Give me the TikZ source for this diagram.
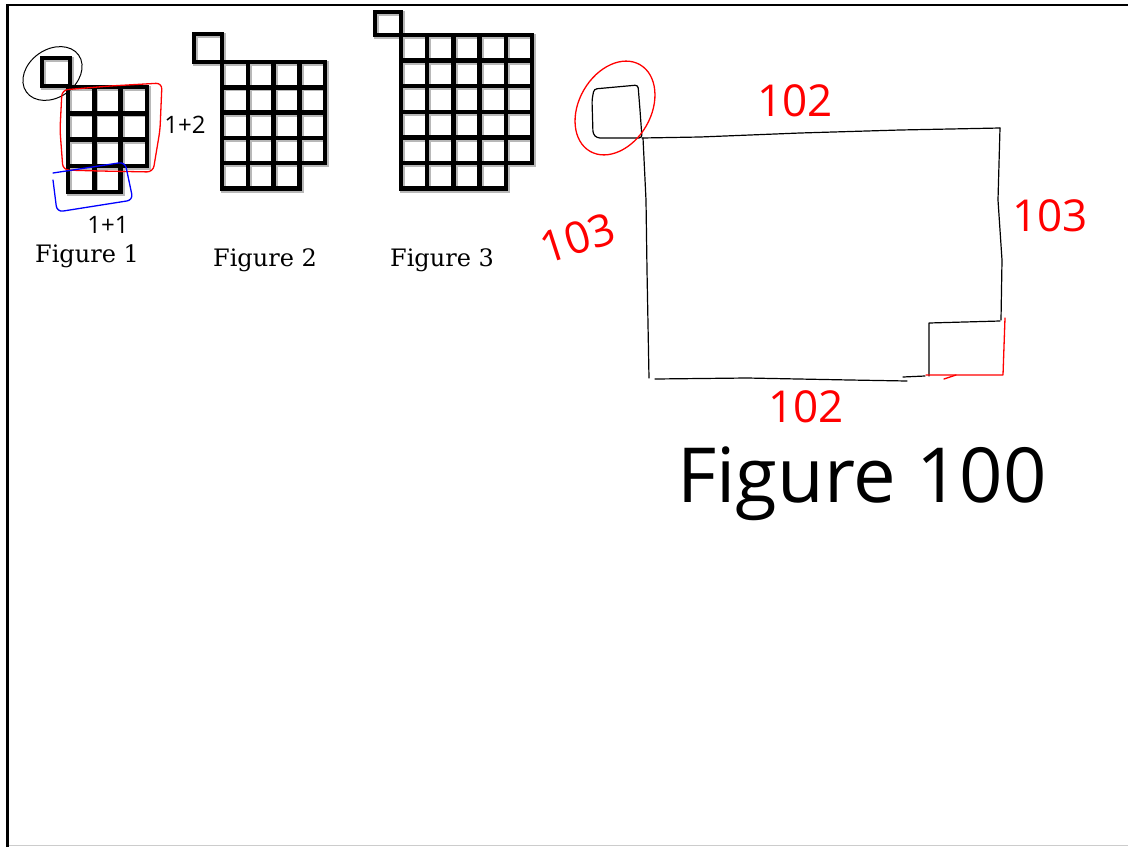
\documentclass[tikz,border=0pt]{standalone}
\usepackage{fontspec}
\newfontfamily\typew{DejaVu Serif}
\newfontfamily\hand{Open Sans}
\tikzset{
  cellsty/.style={line width=4.4pt, draw=black, line join=miter},
  shadowsty/.style={line width=5.2pt, draw=black!28},
  pen/.style={line width=1.2pt, draw=black, line cap=round, line join=round},
  redpen/.style={line width=1.3pt, draw=red, line cap=round, line join=round},
  bluepen/.style={line width=1.3pt, draw=blue, line cap=round, line join=round},
  figlabel/.style={font=\typew\fontsize{24}{28}\selectfont, inner sep=0pt},
  handred/.style={font=\hand\fontsize{44}{48}\selectfont, text=red, inner sep=0pt},
  handblack/.style={font=\hand\fontsize{24}{28}\selectfont, text=black, inner sep=0pt}
}
\newcommand\cellgrid[8]{% style x0 y0 cw ch cols rows bottomcols
  \foreach \i in {1,...,#6}{\foreach \j in {1,...,#7}{
    \draw[#1] ({#2+(\i-1)*#4},{#3+(\j-1)*#5}) rectangle ++(#4,#5);}}
  \foreach \i in {1,...,#8}{\draw[#1] ({#2+(\i-1)*#4},{#3+#7*#5}) rectangle ++(#4,#5);}
}
\begin{document}
\begin{tikzpicture}[x=1pt,y=-1pt]
\useasboundingbox (0,0) rectangle (1128,847);
\fill[white] (0,0) rectangle (1128,847);
% page frame
\draw[line width=2.5pt] (7.5,847) -- (7.5,5) -- (1128,5);
\draw[line width=1.5pt, black!20] (9,845.5) -- (1128,845.5);

% ---------- Figure 1 ----------
\begin{scope}[shift={(1.5,1.5)}]
  \draw[shadowsty] (42,58) rectangle (70,86);
  \cellgrid{shadowsty}{68}{87}{26.3}{26.3}{3}{3}{2}
\end{scope}
\draw[cellsty] (42,58) rectangle (70,86);
\cellgrid{cellsty}{68}{87}{26.3}{26.3}{3}{3}{2}

% ---------- Figure 2 ----------
\begin{scope}[shift={(1.5,1.5)}]
  \draw[shadowsty] (194,34) rectangle (222,62);
  \cellgrid{shadowsty}{222}{62}{25.8}{25.3}{4}{4}{3}
\end{scope}
\draw[cellsty] (194,34) rectangle (222,62);
\cellgrid{cellsty}{222}{62}{25.8}{25.3}{4}{4}{3}

% ---------- Figure 3 ----------
\begin{scope}[shift={(1.5,1.5)}]
  \draw[shadowsty] (375,12) rectangle (401,35);
  \cellgrid{shadowsty}{401}{35}{26.2}{25.6}{5}{5}{4}
\end{scope}
\draw[cellsty] (375,12) rectangle (401,35);
\cellgrid{cellsty}{401}{35}{26.2}{25.6}{5}{5}{4}

% labels
\node[figlabel] (f1) at (87,256) {Figure 1};
\node[figlabel] (f2) at (265,260) {Figure 2};
\node[figlabel] (f3) at (442,260) {Figure 3};

% annotations figure 1
\draw[pen, line width=1pt] (52.5,73.5) ellipse[x radius=32, y radius=24, rotate=35];
\draw[redpen, rounded corners=6] (62,90) -- (110,86) -- (162,83) -- (160,130) -- (153,172) -- (100,171) -- (63,170) -- (60,130) -- cycle;
\draw[bluepen, rounded corners=6] (53,173) -- (125,162) -- (133,200) -- (57,212) -- (53,180);
\node[handblack] (oneplusone) at (108,225) {1+1};
\node[handblack] (oneplustwo) at (185,125) {1+2};

% ---------- Figure 100 ----------
% small square top-left
\draw[pen, rounded corners=3] (594,89) -- (638,85) -- (640,110) -- (642,138) -- (597,138) -- (593,134) -- (592,100) -- cycle;
\draw[redpen] (615,108) ellipse[x radius=36, y radius=50, rotate=-30];
% big rectangle
\draw[pen] (642,138) -- (700,137) -- (800,133) -- (900,130) -- (1000,128);
\draw[pen] (1000,128) -- (998,200) -- (1002,260) -- (1001,320);
\draw[pen] (643,138) -- (646,200) -- (647,270) -- (649,378);
\draw[pen] (655,379) -- (747,378) -- (850,380) -- (907,381);
\draw[pen] (903,377) -- (925,376);
% small square bottom-right
\draw[pen] (929,376) -- (929,323) -- (1000,321);
\draw[redpen] (926,375) -- (1003,375) -- (1005,318);
\draw[redpen] (944,379) -- (956,375);

\node[handred] (top) at (795,101) {102};
\node[handred, rotate=18] (left) at (578,238) {103};
\node[handred] (right) at (1050,216) {103};
\node[handred] (bottom) at (806,407) {102};
\node[font=\hand\fontsize{76}{82}\selectfont, inner sep=0pt] (fig100) at (862,484) {Figure 100};
\end{tikzpicture}
\end{document}
